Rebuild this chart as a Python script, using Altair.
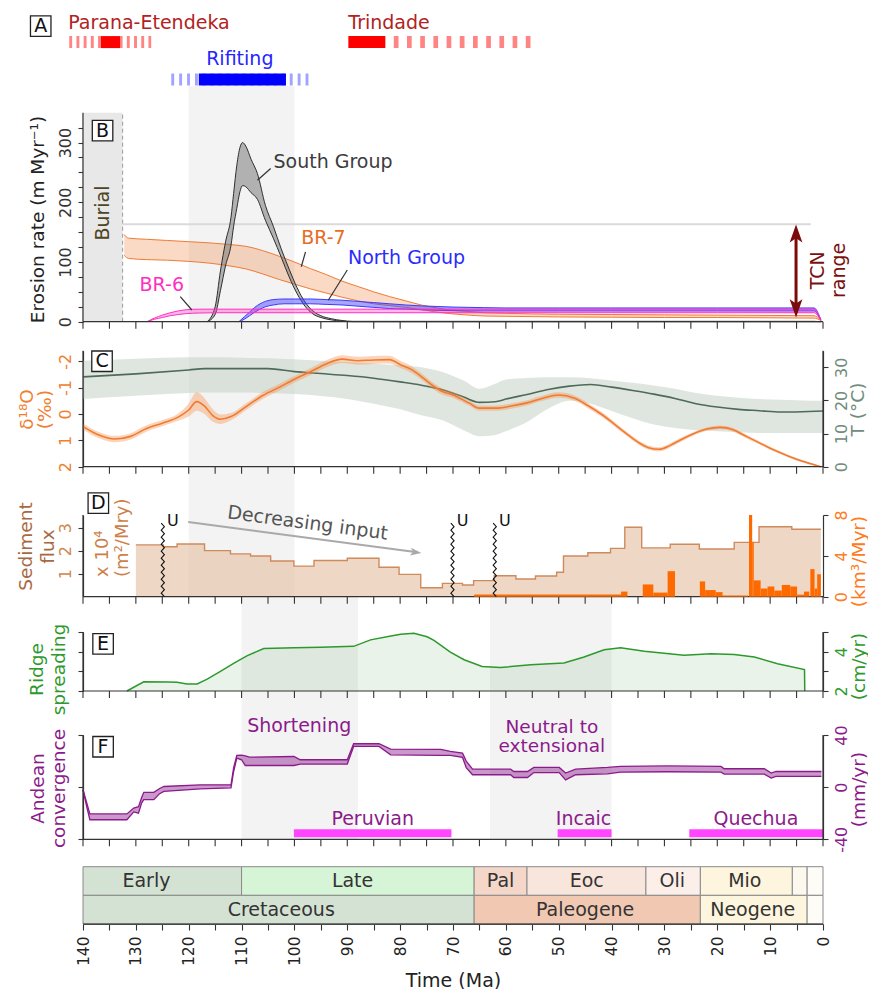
import altair as alt
import pandas as pd

FONT = "DejaVu Sans"
AX = "#333333"

# ------------------------------------------------------------------ data
# Panel A - events (Ma)
event_names = ["Parana-Etendeka", "Trindade", "Rifiting"]
event_label_ma = [142.8, 89.8, 116.7]
event_label_row = [3.34, 3.34, 1.68]
event_colors = ["#b22222", "#b22222", "#2525ff"]
parana_dashed = [142.6, 127.1]
parana_solid = [136.6, 133.0]
trindade_solid = [89.8, 82.8]
trindade_dashed = [81.2, 53.8]
rifting_dashed = [123.3, 96.6]
rifting_solid = [118.1, 101.6]

# Panel B - erosion rates (m/Myr), lower and upper bounds
south_ma = [116.5, 115.0, 114.0, 113.0, 112.0, 111.5, 110.9, 110.3, 109.8, 109.2, 108.2, 107.0, 105.5, 104.0,
            102.5, 101.0, 99.5, 98.0, 96.5, 95.0, 93.0, 91.0, 89.0, 60.0, 30.0, 1.7, 0.4]
south_hi = [0, 25, 85, 135, 175, 215, 262, 292, 300, 294, 272, 248, 195, 160, 122, 88, 57, 33, 18, 10, 5, 2,
            0.6, 0.6, 0.6, 0.6, 0]
south_lo = [0, 12, 52, 95, 128, 160, 190, 218, 228, 226, 216, 205, 170, 140, 108, 75, 47, 26, 13, 7, 3, 1,
            0, 0, 0, 0, 0]
br7_ma = [132.2, 131.4, 128, 124, 120, 116, 112, 109, 106, 103, 100, 97, 94, 91, 88, 85, 82, 79, 76, 73, 70,
          67, 64, 60, 55, 50, 40, 30, 20, 10, 1.7, 0.4]
br7_hi = [146, 140, 138, 136, 134, 132, 129, 126, 119, 110, 100, 89, 79, 68, 59, 50, 42, 35, 28, 23, 19, 17,
          15, 14, 13, 12.5, 12, 11.5, 11, 10.5, 10, 3]
br7_lo = [111, 106, 104, 103, 101, 98, 93, 88, 80, 71, 63, 55, 48, 41, 35, 30, 27, 24, 20, 16, 13, 11, 9.5,
          9, 8.5, 8, 7.5, 7, 7, 6.5, 6, 2]
north_ma = [110.5, 109.5, 108.5, 107.5, 106.5, 105.5, 104, 102, 100, 97, 94, 91, 88, 85, 82, 79, 76, 73, 70,
            67, 64, 60, 50, 40, 20, 1.7, 0.4]
north_hi = [0, 8, 16, 24, 30, 34, 37, 38, 38, 38, 37, 36, 34, 32, 30, 28, 26.5, 25.5, 24.5, 24, 23.5, 23, 23,
            23, 23, 23, 3]
north_lo = [0, 4, 10, 16, 21, 25, 28, 30, 30, 30, 29, 28, 26, 24, 22, 21, 20, 19, 18.5, 18, 18, 18, 18, 18,
            18, 18, 2]
br6_ma = [127.9, 126.5, 125, 123.5, 122, 120.5, 118, 115, 110, 100, 60, 20, 1.7, 0.4]
br6_hi = [0, 6, 11, 15, 18, 20, 21, 21, 21, 21, 21, 21, 21, 3]
br6_lo = [0, 4, 7, 10, 12, 13.5, 14.5, 15, 15, 15, 15, 15, 15, 2]
burial = [140, 132.5]
tcn_top, tcn_ma = 163, 5.1

# Panel C - d18O (permil) and temperature (deg C)
d18_ma = [140, 137, 134, 131, 128, 125, 122, 120, 118.5, 117, 115.5, 114, 112, 109, 106, 103, 100, 97, 94, 91,
          88, 85, 82, 80, 78, 76, 74, 72, 70, 67, 65, 62, 59, 56, 53, 50, 47, 44.5, 42, 40, 37.5, 35, 33, 31,
          29, 27, 24.5, 22, 19.5, 17, 15, 12.5, 10, 7.5, 5, 2.5, 0.4]
d18_mid = [0.48, 0.8, 0.95, 0.85, 0.55, 0.35, 0.12, -0.15, -0.47, -0.3, 0.05, 0.2, 0.1, -0.3, -0.7, -1.0,
           -1.32, -1.6, -1.9, -2.08, -2.02, -2.05, -2.06, -1.88, -1.7, -1.42, -1.1, -0.85, -0.72, -0.42, -0.22,
           -0.22, -0.3, -0.42, -0.6, -0.72, -0.6, -0.32, 0.0, 0.3, 0.7, 1.07, 1.28, 1.34, 1.2, 0.99, 0.75, 0.57,
           0.51, 0.6, 0.8, 1.05, 1.3, 1.52, 1.72, 1.88, 2.0]
d18_hw = [0.12, 0.12, 0.12, 0.12, 0.12, 0.12, 0.14, 0.25, 0.35, 0.3, 0.24, 0.18, 0.14, 0.13, 0.13, 0.13, 0.13,
          0.13, 0.14, 0.15, 0.15, 0.15, 0.15, 0.14, 0.13, 0.12, 0.12, 0.12, 0.11, 0.1, 0.1, 0.1, 0.1, 0.1, 0.1,
          0.1, 0.1, 0.1, 0.09, 0.09, 0.08, 0.08, 0.08, 0.08, 0.08, 0.08, 0.07, 0.07, 0.07, 0.07, 0.07, 0.06,
          0.06, 0.05, 0.05, 0.04, 0.03]
t_ma = [140, 130, 120, 117, 110, 105, 100, 95, 90, 85, 80, 76, 72, 68, 65, 62, 60, 56, 52, 48, 44, 40, 36, 32,
        28, 24, 20, 16, 12, 8, 4, 0]
t_mid = [27.1, 28.0, 29.2, 29.6, 29.6, 29.6, 28.7, 28.1, 27.5, 26.7, 25.6, 24.6, 23.2, 21.0, 19.4, 19.6, 20.4,
         21.8, 23.3, 24.3, 24.8, 24.0, 23.0, 21.9, 20.6, 19.0, 18.0, 17.3, 16.9, 16.5, 16.6, 16.8]
t_hi = [32.0, 32.6, 33.0, 33.0, 32.9, 32.7, 32.4, 32.0, 31.6, 31.1, 30.6, 30.0, 28.6, 26.0, 23.5, 25.0, 26.3,
        26.8, 27.0, 27.0, 26.7, 26.0, 25.3, 24.5, 23.5, 22.2, 21.4, 20.8, 20.4, 20.2, 20.0, 19.9]
t_lo = [20.4, 21.4, 22.2, 22.4, 22.4, 22.2, 21.9, 21.3, 20.4, 19.0, 17.3, 15.5, 14.0, 11.0, 9.2, 9.6, 10.7,
        13.5, 17.5, 19.9, 19.0, 16.8, 14.6, 12.7, 11.7, 11.0, 10.7, 10.4, 10.2, 10.2, 10.2, 10.2]

# Panel D - sediment flux (x10^4 m2/Myr), bins between edges
flux_edges = [130, 124.8, 122.2, 117, 112.1, 108.3, 104.5, 100.1, 96.3, 90, 84, 80.2, 76.1, 72, 68.2, 66.1,
              62.2, 58.1, 54.4, 50.4, 49.1, 44.5, 40.2, 37.5, 34.3, 28.9, 23.4, 16.8, 12.1, 5.9, 0.4]
flux_vals = [2.25, 2.17, 2.29, 2.0, 1.86, 1.77, 1.55, 1.33, 1.57, 1.67, 1.28, 0.97, 0.39, 0.58, 0.51, 0.7, 0.91,
             0.77, 0.9, 1.06, 1.77, 1.91, 2.1, 3.02, 2.12, 2.28, 2.07, 2.36, 3.04, 2.93]
# volumetric rate bars (km3/Myr)
vol_start = [66.0, 38.2, 34.1, 32.1, 29.4, 23.3, 22.3, 20.3, 19.0, 14.0, 13.4, 13.1, 11.8, 10.5, 9.2, 7.8, 6.2,
             4.9, 3.6, 2.4, 1.6, 1.1]
vol_end = [38.2, 37.0, 32.1, 29.4, 28.0, 22.3, 20.3, 19.0, 14.2, 13.4, 13.1, 11.8, 10.5, 9.2, 7.8, 6.2, 4.9, 3.6,
           2.6, 1.6, 1.1, 0.4]
vol_vals = [0.22, 0.5, 1.2, 0.4, 2.5, 1.5, 0.65, 0.45, 0.12, 8.0, 5.3, 1.6, 0.8, 1.0, 0.6, 1.15, 1.0, 0.2, 0.5,
            2.7, 0.8, 2.2]
unconformities = [124.9, 70.1, 62.1]

# Panel E - ridge spreading (cm/yr)
ridge_ma = [131.7, 128.5, 124, 122.2, 120.3, 118.4, 116.5, 114, 111.5, 109, 105.8, 100, 95, 88.8, 85.6, 82, 79.9,
            77.4, 74.9, 73.6, 70.5, 67.9, 64.5, 61, 55.3, 49, 45.2, 41.4, 38.3, 33.8, 26.3, 21.2, 16.8, 13, 8.6,
            3.5, 3.45]
ridge_v = [2.0, 2.47, 2.46, 2.44, 2.36, 2.36, 2.6, 3.0, 3.4, 3.79, 4.16, 4.2, 4.22, 4.27, 4.6, 4.78, 4.88, 4.93,
           4.76, 4.57, 3.98, 3.59, 3.25, 3.19, 3.34, 3.42, 3.73, 4.1, 4.2, 4.02, 3.82, 3.9, 3.86, 3.73, 3.39,
           3.09, 2.0]

# Panel F - Andean convergence (mm/yr)
conv_ma = [140, 139.3, 138.7, 131.7, 130.4, 129.5, 128.9, 128.5, 126.6, 125.5, 124.7, 117.8, 112, 111.5, 110.9,
           110, 109.3, 108.5, 100.1, 98.9, 90, 88.8, 84, 81.8, 72.3, 70.5, 68.2, 67.5, 66.3, 59.1, 58.5, 55.9,
           54.7, 49.9, 48.7, 46.8, 40.8, 38.3, 29.4, 19.3, 18.7, 11.1, 9.8, 8.9, 0.3]
conv_hi = [-2, -12, -20.5, -20.5, -16, -15, -8, -4, -4, -1, 0.5, 1.8, 1.8, 15, 24.3, 24.5, 24, 23, 23.5, 21, 21,
           33.3, 33.3, 29.2, 29.0, 27.4, 26.1, 20, 13.8, 13.8, 12, 12, 15.1, 15.1, 10.8, 13.8, 15.1, 15.9, 16.3,
           15.9, 14.1, 14.1, 10.8, 12, 12]
conv_lo = [-2, -15, -25, -25, -19, -20, -12, -9.6, -9.6, -5, -3.3, -1.3, -0.5, 12, 22.3, 21, 16.6, 16.6, 16.6,
           17.7, 17.7, 31.2, 31.2, 24.8, 24.3, 24.3, 22.8, 15, 9.5, 9.5, 7.4, 7.4, 11.2, 11.2, 5.6, 9.5, 10.2,
           11.5, 11.8, 11.5, 10.0, 10.0, 6.9, 8.2, 8.2]
phase_names = ["Peruvian", "Incaic", "Quechua"]
phase_start = [100.1, 50.2, 25.3]
phase_end = [70.3, 40.0, 0.0]
phase_label_ma = [85.2, 45.3, 12.7]

# shaded intervals (Ma)
rift_band = [120, 100]
shortening_band = [110, 88]
neutral_band = [63, 40]

# Geological time scale
ep_names = ["Early", "Late", "Pal", "Eoc", "Oli", "Mio", "", ""]
ep_start = [140, 110, 66, 56, 33.5, 23.2, 5.8, 3.0]
ep_end = [110, 66, 56, 33.5, 23.2, 5.8, 3.0, 0]
ep_label_ma = [128, 89, 61, 44.7, 28.5, 14.8, 4.4, 1.5]
ep_colors = ["#d3e2d3", "#d6f5d6", "#f5d7ca", "#f8e5dc", "#fcefe9", "#fdf5dd", "#fdf8ee", "#fefcf7"]
per_names = ["Cretaceous", "Paleogene", "Neogene", ""]
per_start = [140, 66, 23.2, 3.0]
per_end = [66, 23.2, 3.0, 0]
per_label_ma = [102.5, 45, 13.3, 1.5]
per_colors = ["#d3e2d3", "#f1c9b3", "#fdf5dd", "#fefcf7"]

# ------------------------------------------------------------------ scales
XS = alt.Scale(domain=[140, 0], nice=False, zero=False)


def sc(dom, rng):
    return alt.Scale(domain=dom, range=rng, nice=False, zero=False)


YA = sc([0, 4], [88, 0])
YB = sc([0, 350], [313.7, 104.7])
YC1 = sc([2, -2.4], [458.7, 342.7])
YC2 = sc([0, 35], [458.7, 342.7])
YD1 = sc([0, 3.55], [588.7, 507])
YD2 = sc([0, 8], [588.7, 507])
YE = sc([2, 5], [683, 624])
YF = sc([-40, 40], [831.3, 727])
YT = sc([0, 2], [916, 858.7])

HYPHEN = "replace(datum.label, '\u2212', '-')"


def X(f):
    return alt.X(f, type="quantitative", scale=XS, axis=None)


def Y(f, s, axis=None):
    return alt.Y(f, type="quantitative", scale=s, axis=axis)


def lay(*charts):
    return alt.layer(*charts).resolve_axis(x="independent", y="independent")


def yaxis(orient, values, title, tx, ty, lab_color="#333", title_color="#222", labels=True, expr=None, lh=21):
    left = orient == "left"
    kw = dict(orient=orient, values=values, grid=False, domainColor=AX, domainWidth=1.2, tickColor=AX,
              tickWidth=1.1, tickSize=5, labels=labels, labelAngle=270, labelAlign="center",
              labelBaseline="bottom" if left else "top", labelPadding=5, labelFontSize=16,
              labelColor=lab_color, labelFont=FONT, labelOverlap=False, labelFlush=False, title=title,
              titleFont=FONT, titleFontSize=18.5, titleFontWeight="normal", titleColor=title_color,
              titleAngle=270, titleAlign="center", titleBaseline="middle", titleLineHeight=lh,
              titleX=tx, titleY=ty)
    if expr:
        kw["labelExpr"] = expr
    return alt.Axis(**kw)


def axis_carrier(lo, hi, s, axis, at=140):
    df = pd.DataFrame({"a": [at], "lo": [lo], "hi": [hi]})
    return alt.Chart(df).mark_rule(color=AX, strokeWidth=1.2).encode(
        x=X("a"), y=Y("lo", s, axis), y2="hi:Q")


XT = list(range(0, 141, 5))


def xframe(base, s):
    tdf = pd.DataFrame({"t": XT, "b": [base] * len(XT)})
    ticks = alt.Chart(tdf).mark_rule(color=AX, strokeWidth=1.1, y2Offset=7).encode(
        x=X("t"), y=Y("b", s), y2="b:Q")
    ddf = pd.DataFrame({"a": [140], "c": [0], "b": [base]})
    dom = alt.Chart(ddf).mark_rule(color=AX, strokeWidth=1.2).encode(x=X("a"), x2="c:Q", y=Y("b", s))
    return [ticks, dom]


def box(ma, v, letter, s):
    df = pd.DataFrame({"ma": [ma], "v": [v], "s": [letter]})
    sq = alt.Chart(df).mark_point(shape="square", filled=True, fill="white", stroke="#222", strokeWidth=1.3,
                                  size=420, opacity=1).encode(x=X("ma"), y=Y("v", s))
    tx = alt.Chart(df).mark_text(fontSize=19, color="#111", font=FONT).encode(x=X("ma"), y=Y("v", s),
                                                                          text="s:N")
    return [sq, tx]


def text(ma, v, s, scale, **kw):
    df = pd.DataFrame({"ma": [ma], "v": [v], "s": [s]})
    props = dict(font=FONT, fontSize=19)
    props.update(kw)
    return alt.Chart(df).mark_text(**props).encode(x=X("ma"), y=Y("v", scale), text="s:N")


def band(ma, lo, hi, s, fill, line, op=0.5, lw=1.0, interp="monotone"):
    df = pd.DataFrame({"ma": ma, "lo": lo, "hi": hi})
    area = alt.Chart(df).mark_area(color=fill, opacity=op, interpolate=interp).encode(
        x=X("ma"), y=Y("hi", s), y2="lo:Q")
    out = [area]
    if lw > 0:
        out.append(alt.Chart(df).mark_line(color=line, strokeWidth=lw, interpolate=interp).encode(
            x=X("ma"), y=Y("hi", s)))
        out.append(alt.Chart(df).mark_line(color=line, strokeWidth=lw, interpolate=interp).encode(
            x=X("ma"), y=Y("lo", s)))
    return out


def seg(x1, x2, y1, y2, s, **kw):
    df = pd.DataFrame({"a": [x1], "b": [x2], "c": [y1], "d": [y2]})
    return alt.Chart(df).mark_rule(**kw).encode(x=X("a"), x2="b:Q", y=Y("c", s), y2="d:Q")


# ------------------------------------------------------------------ background bands
bg_df = pd.DataFrame({
    "a": [rift_band[0], shortening_band[0], neutral_band[0]],
    "b": [rift_band[1], shortening_band[1], neutral_band[1]],
    "top": [78, 588, 588], "bot": [588.7, 831.3, 831.3],
})
bg = alt.Chart(bg_df).mark_rect(color="#f3f3f3").encode(
    x=X("a"), x2="b:Q", y=alt.Y("top:Q", scale=None, axis=None), y2="bot:Q")

# ------------------------------------------------------------------ A
a_layers = [
    seg(parana_dashed[0], parana_dashed[1], 2.45, 2.45, YA, color="#ff8585", strokeWidth=12, strokeDash=[2.9, 4.3]),
    seg(trindade_dashed[0], trindade_dashed[1], 2.45, 2.45, YA, color="#ff8585", strokeWidth=12,
        strokeDash=[4.7, 8.5]),
    seg(rifting_dashed[0], rifting_dashed[1], 0.75, 0.75, YA, color="#a3a3ff", strokeWidth=12, strokeDash=[2.9, 5]),
    seg(parana_solid[0], parana_solid[1], 2.45, 2.45, YA, color="#ff0000", strokeWidth=12),
    seg(trindade_solid[0], trindade_solid[1], 2.45, 2.45, YA, color="#ff0000", strokeWidth=12),
    seg(rifting_solid[0], rifting_solid[1], 0.75, 0.75, YA, color="#0000ff", strokeWidth=12),
]
ev_df = pd.DataFrame({"ma": event_label_ma, "v": event_label_row, "s": event_names, "c": event_colors})
a_layers.append(alt.Chart(ev_df).mark_text(font=FONT, fontSize=19, align="left").encode(
    x=X("ma"), y=Y("v", YA), text="s:N", color=alt.Color("c:N", scale=None)))
a_layers += box(148.0, 3.18, "A", YA)
A = lay(*a_layers)

# ------------------------------------------------------------------ B
b_layers = []
bur_df = pd.DataFrame({"a": [burial[0]], "b": [burial[1]], "lo": [0], "hi": [350]})
b_layers.append(alt.Chart(bur_df).mark_rect(color="#e8e8e8").encode(
    x=X("a"), x2="b:Q", y=Y("hi", YB), y2="lo:Q"))
b_layers.append(seg(burial[1], burial[1], 0, 350, YB, color="#9a9a9a", strokeWidth=1, strokeDash=[4, 3]))
b_layers.append(seg(burial[1], 2.3, tcn_top, tcn_top, YB, color="#dadada", strokeWidth=2))
b_layers += band(br7_ma, br7_lo, br7_hi, YB, "#f08040", "#f07b35", op=0.3)
b_layers += band(south_ma, south_lo, south_hi, YB, "#707070", "#2f2f2f", op=0.5)
b_layers += band(north_ma, north_lo, north_hi, YB, "#3a3aff", "#3a3aff", op=0.45)
b_layers += band(br6_ma, br6_lo, br6_hi, YB, "#ff30c0", "#ff30c0", op=0.35)
for x1, x2, y1, y2 in [(104.5, 107.0, 256.5, 237), (97.9, 98.7, 117, 92), (90.0, 93.6, 86.5, 36),
                       (121.6, 119.4, 42, 19.6)]:
    b_layers.append(seg(x1, x2, y1, y2, YB, color="#333", strokeWidth=1.2))
b_layers.append(text(92.7, 267, "South Group", YB, color="#3c3c3c"))
b_layers.append(text(94.5, 141, "BR-7", YB, color="#e66d1f"))
b_layers.append(text(78.8, 106, "North Group", YB, color="#2a2aff"))
b_layers.append(text(125.1, 61.4, "BR-6", YB, color="#ff2fc0"))
b_layers.append(text(136.2, 182, "Burial", YB, color="#4d4524", angle=270))
b_layers.append(seg(tcn_ma, tcn_ma, 25, 145, YB, color="#7b0a0a", strokeWidth=3))
arrow_path = "M0,-1L0.6,0.7L0,0.3L-0.6,0.7Z"
tcn_heads = pd.DataFrame({"ma": [tcn_ma, tcn_ma], "v": [145, 25], "ang": [0, 180]})
b_layers.append(alt.Chart(tcn_heads).mark_point(shape=arrow_path, filled=True, color="#7b0a0a", size=450,
                                                opacity=1).encode(
    x=X("ma"), y=Y("v", YB), angle=alt.Angle("ang:Q", scale=None)))
b_layers.append(text(0.9, 86, "TCN\nrange", YB, color="#7b1010", angle=270, lineBreak="\n", lineHeight=21))
b_layers += box(136.3, 320, "B", YB)
b_layers += xframe(0, YB)
B = lay(*b_layers)
B_ax = axis_carrier(0, 350, YB, yaxis("left", list(range(0, 326, 25)), "Erosion rate (m Myr⁻¹)", -46, 211,
                                      expr="datum.value % 100 === 0 ? datum.label : ''"))

# ------------------------------------------------------------------ C
C2 = lay(*band(t_ma, t_lo, t_hi, YC2, "#c9d6c9", "#c9d6c9", op=0.6, lw=0),
         alt.Chart(pd.DataFrame({"ma": t_ma, "v": t_mid})).mark_line(
             color="#4e6a5a", strokeWidth=1.6, interpolate="monotone").encode(x=X("ma"), y=Y("v", YC2)))
C2_ax = axis_carrier(0, 35, YC2, yaxis("right", [0, 10, 20, 30], "T (°C)", 34, 401, lab_color="#6f8c7c",
                                       title_color="#6f8c7c"), at=0)

d18_lo = [m - h for m, h in zip(d18_mid, d18_hw)]
d18_hi = [m + h for m, h in zip(d18_mid, d18_hw)]
c_layers = band(d18_ma, d18_lo, d18_hi, YC1, "#f5944f", "#f5944f", op=0.4, lw=0)
c_layers.append(alt.Chart(pd.DataFrame({"ma": d18_ma, "v": d18_mid})).mark_line(
    color="#f07a30", strokeWidth=1.6, interpolate="monotone").encode(x=X("ma"), y=Y("v", YC1)))
c_layers += box(136.4, -2.0, "C", YC1)
c_layers += xframe(2, YC1)
C1 = lay(*c_layers)
C1_ax = axis_carrier(2, -2.4, YC1, yaxis("left", [-2, -1, 0, 1, 2], ["δ¹⁸O", "(‰)"], -56.3, 401,
                                         lab_color="#f08030", title_color="#f08030", lh=18, expr=HYPHEN))

# ------------------------------------------------------------------ D
step_ma, step_v = [], []
for i, v in enumerate(flux_vals):
    step_ma += [flux_edges[i] - 0.001, flux_edges[i + 1] + 0.001]
    step_v += [v, v]
step_df = pd.DataFrame({"ma": step_ma, "v": step_v})
d_layers = [
    alt.Chart(step_df).mark_area(color="#e7c2a6", opacity=0.65).encode(x=X("ma"), y=Y("v", YD1)),
    alt.Chart(step_df).mark_line(color="#cf8a5c", strokeWidth=1.4).encode(x=X("ma"), y=Y("v", YD1)),
]
d_layers.append(text(136.2, 0.86, "x 10⁴\n(m²/Mry)", YD1, color="#cc7f48", angle=270, align="left",
                     lineBreak="\n", lineHeight=20, fontSize=18))
d_layers += box(137.1, 4.07, "D", YD1)
d_layers += xframe(0, YD1)
D1 = lay(*d_layers)
D1_ax = axis_carrier(0, 3.55, YD1, yaxis("left", [1, 2, 3], ["Sediment", "flux"], -57.2, 538,
                                         lab_color="#d08850", title_color="#a9683f", lh=21.5))

vol_df = pd.DataFrame({"a": vol_start, "b": vol_end, "v": vol_vals, "z": [0] * len(vol_vals)})
D2 = alt.Chart(vol_df).mark_rect(color="#ff6a00").encode(
    x=X("a"), x2="b:Q",
    y=Y("v", YD2, yaxis("right", [0, 4, 8], "(km³/Myr)", 35, 553, lab_color="#ff7a20", title_color="#ff7a20")),
    y2="z:Q")

zz_rows = []
for i, u in enumerate(unconformities):
    for k in range(22):
        zz_rows.append({"id": i, "k": k, "ma": u + (0.3 if k % 2 else -0.3), "v": k * 0.152})
zz_df = pd.DataFrame(zz_rows)
u_df = pd.DataFrame({"ma": [u - 0.8 for u in unconformities], "v": [3.28] * 3, "s": ["U"] * 3})
D3 = lay(
    alt.Chart(zz_df).mark_line(color="#111", strokeWidth=1.1).encode(
        x=X("ma"), y=Y("v", YD1), detail="id:N", order="k:Q"),
    alt.Chart(u_df).mark_text(font=FONT, fontSize=16, align="left", color="#111").encode(
        x=X("ma"), y=Y("v", YD1), text="s:N"),
    seg(120.1, 77.5, 3.25, 1.95, YD1, color="#a9a9a9", strokeWidth=2),
    alt.Chart(pd.DataFrame({"ma": [77.2], "v": [1.935]})).mark_point(
        shape=arrow_path, filled=True, color="#a9a9a9", size=170, opacity=1, angle=97.6).encode(
        x=X("ma"), y=Y("v", YD1)),
    text(97.5, 3.2, "Decreasing input", YD1, color="#555555", angle=7.6),
)

# ------------------------------------------------------------------ E
ridge_df = pd.DataFrame({"ma": ridge_ma, "v": ridge_v, "base": [2.0] * len(ridge_ma)})
e_layers = [
    alt.Chart(ridge_df).mark_area(color="#5aa05a", opacity=0.13).encode(x=X("ma"), y=Y("v", YE), y2="base:Q"),
    alt.Chart(ridge_df).mark_line(color="#2b9a2b", strokeWidth=1.5).encode(x=X("ma"), y=Y("v", YE)),
]
e_layers += box(136.2, 4.4, "E", YE)
e_layers += xframe(2, YE)
E1 = lay(*e_layers)
E1_ax = axis_carrier(2, 5, YE, yaxis("left", [2, 3, 4, 5], ["Ridge", "spreading"], -46.7, 661, labels=False,
                                     title_color="#2e9a2e", lh=22.5))
E2 = axis_carrier(2, 5, YE, yaxis("right", [2, 3, 4, 5], "(cm/yr)", 35, 658, lab_color="#2e9a2e",
                                  title_color="#2e9a2e", expr="datum.value % 2 === 0 ? datum.label : ''"), at=0)

# ------------------------------------------------------------------ F
f_layers = band(conv_ma, conv_lo, conv_hi, YF, "#8b1a8b", "#8b1a8b", op=0.45, lw=1.3, interp="linear")
ph_df = pd.DataFrame({"a": phase_start, "b": phase_end, "v": [-35.4] * 3, "lm": phase_label_ma,
                      "lv": [-24.4] * 3, "s": phase_names})
f_layers.append(alt.Chart(ph_df).mark_rule(color="#ff45ff", strokeWidth=8).encode(
    x=X("a"), x2="b:Q", y=Y("v", YF)))
f_layers.append(alt.Chart(ph_df).mark_text(font=FONT, fontSize=19, color="#8b1a8b").encode(
    x=X("lm"), y=Y("lv", YF), text="s:N"))
f_layers.append(text(99.1, 47.2, "Shortening", YF, color="#8b1a8b"))
f_layers.append(text(51.3, 46.4, "Neutral to\nextensional", YF, color="#8b1a8b", lineBreak="\n",
                     lineHeight=19, fontSize=18.5))
f_layers += box(136.2, 31, "F", YF)
f_layers += xframe(-40, YF)
F1 = lay(*f_layers)
F1_ax = axis_carrier(-40, 40, YF, yaxis("left", [-40, 0, 40], ["Andean", "convergence"], -45.5, 780,
                                       labels=False, title_color="#8b1a8b", lh=21))
F2 = axis_carrier(-40, 40, YF, yaxis("right", [-40, 0, 40], "(mm/yr)", 35, 781, lab_color="#8b1a8b",
                                     title_color="#8b1a8b", expr=HYPHEN), at=0)

# ------------------------------------------------------------------ time scale
ts_df = pd.DataFrame({
    "a": ep_start + per_start, "b": ep_end + per_end,
    "lo": [1] * len(ep_start) + [0] * len(per_start), "hi": [2] * len(ep_start) + [1] * len(per_start),
    "c": ep_colors + per_colors, "s": ep_names + per_names, "lm": ep_label_ma + per_label_ma,
    "lv": [1.5] * len(ep_start) + [0.5] * len(per_start),
})
xaxis = alt.Axis(values=XT, labelExpr="datum.value % 10 === 0 ? datum.label : ''", labelAngle=270,
                 labelAlign="right", labelBaseline="middle", labelFontSize=15.5, labelFont=FONT,
                 labelColor="#222", labelPadding=6, labelOverlap=False, labelFlush=False, tickSize=6,
                 tickColor=AX, tickWidth=1.1, domainColor=AX, domainWidth=1.2, grid=False,
                 title="Time (Ma)", titleFont=FONT, titleFontSize=19, titleFontWeight="normal",
                 titleColor="#222", titleBaseline="alphabetic", titleY=62)
TS = lay(
    alt.Chart(ts_df).mark_rect(stroke="#8a8a8a", strokeWidth=1).encode(
        x=X("a"), x2="b:Q", y=Y("hi", YT), y2="lo:Q", color=alt.Color("c:N", scale=None)),
    alt.Chart(ts_df).mark_text(font=FONT, fontSize=19, color="#333").encode(
        x=X("lm"), y=Y("lv", YT), text="s:N"),
)
X_ax = alt.Chart(pd.DataFrame({"a": [140], "b": [0], "v": [0]})).mark_rule(color=AX, strokeWidth=1.2).encode(
    x=alt.X("a:Q", scale=XS, axis=xaxis), x2="b:Q", y=Y("v", YT))

chart = alt.layer(bg, TS, X_ax, A, B, B_ax, C2, C2_ax, C1, C1_ax, D1, D1_ax, D2, D3, E1, E1_ax, E2,
                  F1, F1_ax, F2).resolve_scale(
    y="independent"
).resolve_axis(
    x="independent", y="independent"
).properties(
    width=740, height=916,
    autosize=alt.AutoSizeParams(type="none"),
    padding={"left": 75, "top": 0, "right": 45, "bottom": 65},
).configure(font=FONT).configure_view(strokeWidth=0)

chart.save("out.html", embed_options={"renderer": "svg", "actions": False})
